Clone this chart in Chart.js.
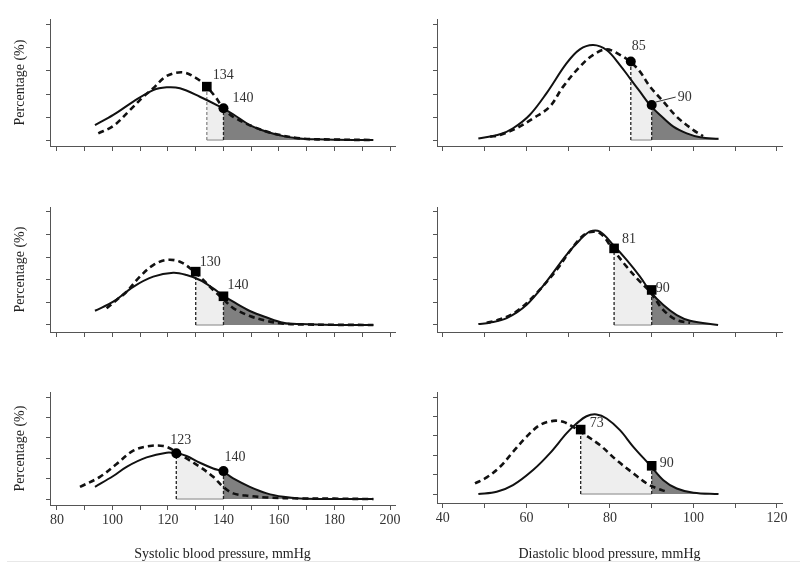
<!DOCTYPE html>
<html>
<head>
<meta charset="utf-8">
<script src="https://cdn.jsdelivr.net/npm/chart.js@4.4.1/dist/chart.umd.min.js"></script>
<style>
  body { margin: 0; background: #fff; }
  #wrap { position: relative; width: 800px; height: 578px; overflow: hidden; }
  canvas { position: absolute; }
  .rule { position: absolute; left: 7px; top: 561px; width: 793px; height: 1px; background: #e8e8e8; }
</style>
</head>
<body>
<div id="wrap">
  <canvas id="p1" width="420" height="160" style="left:0;top:0"></canvas>
  <canvas id="p2" width="400" height="160" style="left:400px;top:0"></canvas>
  <canvas id="p3" width="420" height="175" style="left:0;top:170px"></canvas>
  <canvas id="p4" width="400" height="175" style="left:400px;top:170px"></canvas>
  <canvas id="p5" width="420" height="218" style="left:0;top:360px"></canvas>
  <canvas id="p6" width="400" height="218" style="left:400px;top:360px"></canvas>
  <div class="rule"></div>
</div>
<script>
// systolic, top panel
const p1SolidX = [93.7, 100.3, 107.5, 114.7, 119.5, 124.3, 131.5, 138.7, 143.5, 149.5, 155.6, 161.6, 167.6, 173.6, 180, 194];
const p1SolidY = [0.65, 1.09, 1.67, 2.17, 2.29, 2.25, 1.88, 1.45, 1.12, 0.65, 0.36, 0.17, 0.07, 0.03, 0.01, 0];
const p1DashX = [94.9, 100.3, 106.3, 111.1, 114.7, 119.5, 125.5, 130.3, 133.9, 137.5, 139.9, 143.5, 150.7, 157.9, 167.6, 180, 194];
const p1DashY = [0.29, 0.61, 1.30, 1.88, 2.25, 2.78, 2.94, 2.68, 2.32, 1.81, 1.38, 1.01, 0.58, 0.29, 0.07, 0.02, 0];
const p1Cuts = [134, 140];
const p1MarkY = [2.32, 1.38];

// diastolic, top panel
const p2SolidX = [48.5, 53.7, 56.8, 60.8, 64.8, 69.6, 72.8, 76.0, 79.2, 82.4, 84.8, 87.2, 89.6, 92.0, 95.2, 98.4, 101.6, 106.0];
const p2SolidY = [0.07, 0.25, 0.51, 1.09, 2.03, 3.33, 3.94, 4.13, 3.91, 3.26, 2.68, 2.10, 1.52, 1.09, 0.58, 0.29, 0.12, 0.05];
const p2DashX = [51.3, 53.7, 57.6, 61.6, 65.6, 68.8, 72.8, 76.0, 79.2, 82.4, 84.8, 87.2, 89.6, 92.8, 96.0, 100.0, 102.3];
const p2DashY = [0.14, 0.22, 0.51, 0.94, 1.45, 2.32, 3.19, 3.70, 3.94, 3.70, 3.41, 2.97, 2.32, 1.67, 1.01, 0.43, 0.17];
const p2Cuts = [85, 90];
const p2MarkY = [3.41, 1.52];

// systolic, middle panel
const p3SolidX = [93.7, 100.3, 107.5, 114.7, 121.9, 126.7, 131.5, 136.3, 139.9, 143.5, 149.5, 155.6, 161.6, 167.6, 179.6, 194];
const p3SolidY = [0.63, 1.03, 1.69, 2.14, 2.31, 2.21, 1.99, 1.62, 1.30, 1.03, 0.62, 0.33, 0.10, 0.04, 0, 0];
const p3DashX = [97.9, 101.5, 105.1, 109.9, 114.7, 119.5, 124.3, 129.1, 132.7, 136.3, 139.9, 143.5, 149.5, 155.6, 161.6, 170, 194];
const p3DashY = [0.74, 1.11, 1.47, 2.14, 2.65, 2.88, 2.80, 2.40, 1.99, 1.55, 1.15, 0.75, 0.40, 0.18, 0.06, 0.02, 0];
const p3Cuts = [130, 140];
const p3MarkY = [2.36, 1.27];

// diastolic, middle panel
const p4SolidX = [48.5, 51.3, 55.3, 60.0, 64.8, 69.6, 72.8, 75.2, 77.6, 80.8, 84.0, 87.2, 89.6, 92.8, 96.0, 99.2, 105.9];
const p4SolidY = [0.04, 0.10, 0.30, 0.88, 1.92, 3.10, 3.76, 4.13, 4.13, 3.54, 2.88, 2.14, 1.50, 0.88, 0.44, 0.19, 0];
const p4DashX = [50.5, 53.7, 57.6, 62.4, 67.2, 71.2, 74.4, 77.6, 80.8, 84.0, 87.2, 89.6, 92.8, 96.0, 99.2];
const p4DashY = [0.10, 0.25, 0.59, 1.40, 2.43, 3.46, 4.06, 4.06, 3.32, 2.58, 1.92, 1.47, 0.66, 0.22, 0.10];
const p4Cuts = [81, 90];
const p4MarkY = [3.39, 1.55];

// systolic, bottom panel
const p5SolidX = [93.7, 100.3, 105.1, 112.3, 119.5, 123.1, 126.7, 131.5, 136.3, 139.9, 143.5, 149.5, 155.6, 161.6, 167.6, 179.6, 194];
const p5SolidY = [0.60, 1.13, 1.58, 2.04, 2.27, 2.24, 2.11, 1.78, 1.50, 1.34, 1.01, 0.60, 0.28, 0.11, 0.03, 0, 0];
const p5DashX = [88.3, 95.5, 101.5, 107.5, 113.5, 118.3, 121.9, 126.7, 131.5, 136.3, 139.9, 143.5, 149.5, 155.6, 167.6, 180, 194];
const p5DashY = [0.60, 1.09, 1.72, 2.37, 2.60, 2.60, 2.40, 1.99, 1.58, 1.09, 0.60, 0.28, 0.15, 0.08, 0.03, 0.02, 0];
const p5Cuts = [123, 140];
const p5MarkY = [2.24, 1.37];

// diastolic, bottom panel
const p6SolidX = [48.5, 52.9, 56.8, 61.6, 65.6, 69.6, 72.0, 74.4, 76.8, 79.2, 82.4, 85.6, 89.6, 92.8, 96.0, 100.0, 106.0];
const p6SolidY = [0, 0.12, 0.46, 1.24, 2.10, 3.13, 3.64, 4.02, 4.11, 3.90, 3.30, 2.44, 1.49, 0.72, 0.29, 0.07, 0];
const p6DashX = [47.7, 50.5, 53.7, 56.8, 60.0, 63.2, 66.4, 68.8, 71.2, 73.6, 77.6, 81.6, 85.6, 88.8, 91.2, 93.6];
const p6DashY = [0.55, 0.86, 1.41, 2.18, 2.95, 3.56, 3.78, 3.73, 3.47, 3.13, 2.53, 1.75, 1.07, 0.55, 0.30, 0.12];
const p6Cuts = [73, 90];
const p6MarkY = [3.33, 1.46];

const sysTitle = "Systolic blood pressure, mmHg";
const diaTitle = "Diastolic blood pressure, mmHg";
const yTitle = "Percentage (%)";

const SERIF = '"Liberation Serif", "DejaVu Serif", serif';
Chart.defaults.font.family = SERIF;

const LIGHT = "#eeeeee";
const DARK = "#808080";

// fills the area under a drawn curve between two x values, clipped with the x scale
const shadePlugin = {
  id: "shade",
  beforeDatasetsDraw(chart, args, opts) {
    const { ctx, chartArea } = chart;
    const xs = chart.scales.x, ys = chart.scales.y;
    const base = ys.getPixelForValue(0);
    opts.fills.forEach((f) => {
      const meta = chart.getDatasetMeta(f.dataset);
      const line = meta.dataset;
      const pts = meta.data;
      line.updateControlPoints(chartArea, "x");
      const x0 = xs.getPixelForValue(f.from);
      const x1 = xs.getPixelForValue(f.to);
      ctx.save();
      ctx.beginPath();
      ctx.rect(x0, chartArea.top, x1 - x0, base - chartArea.top);
      ctx.clip();
      ctx.beginPath();
      line.path(ctx);
      ctx.lineTo(pts[pts.length - 1].x, base);
      ctx.lineTo(pts[0].x, base);
      ctx.closePath();
      ctx.fillStyle = f.color;
      ctx.fill();
      ctx.restore();
    });
  },
  afterDatasetsDraw(chart, args, opts) {
    const { ctx } = chart;
    const xs = chart.scales.x, ys = chart.scales.y;
    ctx.save();
    ctx.font = "14px " + SERIF;
    ctx.fillStyle = "#333";
    ctx.textAlign = "left";
    ctx.textBaseline = "middle";
    opts.labels.forEach((l) => {
      const px = xs.getPixelForValue(l.x);
      const py = ys.getPixelForValue(l.y);
      ctx.fillText(l.text, px + l.dx, py + l.dy);
      if (l.pointer) {
        ctx.beginPath();
        ctx.moveTo(px + l.pointer[0], py + l.pointer[1]);
        ctx.lineTo(px + l.pointer[2], py + l.pointer[3]);
        ctx.strokeStyle = "#333";
        ctx.lineWidth = 1;
        ctx.stroke();
      }
    });
    ctx.restore();
  }
};

function pts(xs, ys) {
  return xs.map((x, i) => ({ x, y: ys[i] }));
}

function panel(id, o) {
  const markers = o.cuts.map((c, i) => ({ x: c, y: o.markY[i] }));
  const lightSet = o.lightOn === "solid" ? 1 : 2;
  new Chart(document.getElementById(id), {
    type: "line",
    data: {
      datasets: [
        {
          data: markers, showLine: false,
          pointStyle: o.markStyle,
          pointRadius: o.markStyle.map((s) => (s === "rect" ? 6.8 : 5)),
          pointBackgroundColor: "#000", pointBorderColor: "#000", pointBorderWidth: 0
        },
        { data: pts(o.solidX, o.solidY), borderColor: "#111", borderWidth: 2, tension: 0.35, pointRadius: 0 },
        { data: pts(o.dashX, o.dashY), borderColor: "#111", borderWidth: 2.6, borderDash: [6, 4], tension: 0.35, pointRadius: 0 },
        { data: [{ x: o.cuts[0], y: 0 }, { x: o.cuts[0], y: o.markY[0] }], borderColor: o.firstCutColor || "#222", borderWidth: 1.3, borderDash: [3, 2], pointRadius: 0 },
        { data: [{ x: o.cuts[1], y: 0 }, { x: o.cuts[1], y: o.markY[1] }], borderColor: "#222", borderWidth: 1.3, borderDash: [3, 2], pointRadius: 0 },
        { data: [{ x: o.cuts[0], y: 0 }, { x: o.cuts[1], y: 0 }], borderColor: "#aaa", borderWidth: 1.5, pointRadius: 0 }
      ]
    },
    options: {
      responsive: false,
      animation: false,
      devicePixelRatio: 1,
      layout: { padding: o.pad },
      plugins: {
        legend: { display: false },
        tooltip: { enabled: false },
        shade: {
          fills: [
            { dataset: lightSet, from: o.cuts[0], to: o.xMax, color: LIGHT },
            { dataset: 1, from: o.cuts[1], to: o.xMax, color: DARK }
          ],
          labels: o.cuts.map((c, i) => ({
            text: String(c), x: c, y: o.markY[i],
            dx: o.labelOff[i][0], dy: o.labelOff[i][1],
            pointer: i === 1 ? o.pointer : null
          }))
        }
      },
      scales: {
        x: {
          type: "linear", min: o.xMin, max: o.xMax,
          ticks: {
            display: o.bottom, stepSize: 10, includeBounds: false, autoSkip: false, maxRotation: 0,
            callback: (v) => (v % 20 === 0 ? v : ""),
            font: { size: 14 }, color: "#333", padding: 2
          },
          grid: { drawOnChartArea: false, drawTicks: true, tickLength: 5, color: "#555" },
          border: { color: "#555" },
          title: { display: o.bottom, text: o.xTitle, font: { size: 14 }, color: "#222", padding: { top: 0, bottom: 2 } },
          afterFit: (s) => { s.height = o.xH; }
        },
        y: {
          min: o.yMin, max: o.yMax,
          ticks: { display: false, stepSize: 1, includeBounds: false },
          grid: { drawOnChartArea: false, drawTicks: true, tickLength: 4, color: "#555" },
          border: { color: "#555" },
          title: { display: o.left, text: yTitle, font: { size: 14 }, color: "#222", padding: { top: 4, bottom: 0 } },
          afterFit: (s) => { s.width = o.yW; }
        }
      }
    },
    plugins: [shadePlugin]
  });
}

const leftCol = { xMin: 77.5, xMax: 201.8, xTitle: sysTitle, left: true, yW: 42 };
const rightCol = { xMin: 38.6, xMax: 121.2, xTitle: diaTitle, left: false, yW: 10 };

panel("p1", Object.assign({}, leftCol, {
  solidX: p1SolidX, solidY: p1SolidY, dashX: p1DashX, dashY: p1DashY, cuts: p1Cuts, markY: p1MarkY,
  markStyle: ["rect", "circle"], lightOn: "solid", firstCutColor: "#888",
  labelOff: [[6, -11], [9, -10]],
  yMin: -0.26, yMax: 5.26, bottom: false, xH: 8, pad: { left: 8, right: 25, top: 19, bottom: 6 }
}));
panel("p2", Object.assign({}, rightCol, {
  solidX: p2SolidX, solidY: p2SolidY, dashX: p2DashX, dashY: p2DashY, cuts: p2Cuts, markY: p2MarkY,
  markStyle: ["circle", "circle"], lightOn: "dashed",
  labelOff: [[1, -15], [26, -8]], pointer: [24, -8, 4, -3],
  yMin: -0.26, yMax: 5.26, bottom: false, xH: 8, pad: { left: 27, right: 18, top: 19, bottom: 6 }
}));
panel("p3", Object.assign({}, leftCol, {
  solidX: p3SolidX, solidY: p3SolidY, dashX: p3DashX, dashY: p3DashY, cuts: p3Cuts, markY: p3MarkY,
  markStyle: ["rect", "rect"], lightOn: "solid",
  labelOff: [[4, -9], [4, -11]],
  yMin: -0.31, yMax: 5.22, bottom: false, xH: 8, pad: { left: 8, right: 25, top: 37, bottom: 5 }
}));
panel("p4", Object.assign({}, rightCol, {
  solidX: p4SolidX, solidY: p4SolidY, dashX: p4DashX, dashY: p4DashY, cuts: p4Cuts, markY: p4MarkY,
  markStyle: ["rect", "rect"], lightOn: "dashed",
  labelOff: [[8, -9], [4, -2]],
  yMin: -0.31, yMax: 5.22, bottom: false, xH: 8, pad: { left: 27, right: 18, top: 37, bottom: 5 }
}));
panel("p5", Object.assign({}, leftCol, {
  solidX: p5SolidX, solidY: p5SolidY, dashX: p5DashX, dashY: p5DashY, cuts: p5Cuts, markY: p5MarkY,
  markStyle: ["circle", "circle"], lightOn: "dashed",
  labelOff: [[-6, -13], [1, -14]],
  yMin: -0.29, yMax: 5.245, bottom: true, xH: 60, pad: { left: 8, right: 25, top: 32, bottom: 13 }
}));
panel("p6", Object.assign({}, rightCol, {
  solidX: p6SolidX, solidY: p6SolidY, dashX: p6DashX, dashY: p6DashY, cuts: p6Cuts, markY: p6MarkY,
  markStyle: ["rect", "rect"], lightOn: "dashed",
  labelOff: [[9, -6], [8, -2]],
  yMin: -0.46, yMax: 5.27, bottom: true, xH: 62, pad: { left: 27, right: 18, top: 32, bottom: 13 }
}));
</script>
</body>
</html>
